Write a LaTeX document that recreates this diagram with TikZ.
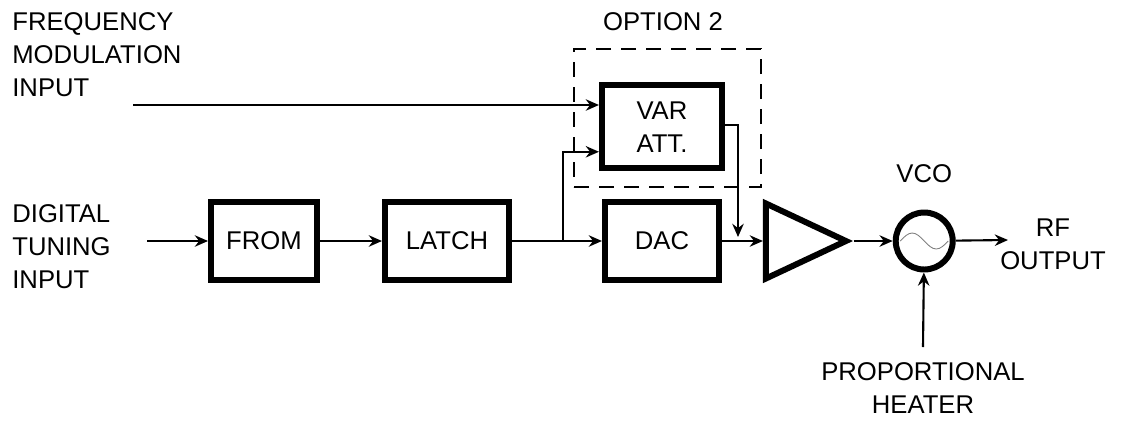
\documentclass[tikz,border=0pt]{standalone}
\usepackage{fontspec}
\setmainfont{Liberation Sans}
\usepackage{tikz}
\usetikzlibrary{shapes.geometric, arrows.meta, positioning}
\tikzstyle{block}=[rectangle, draw=black, line width=3.4pt, minimum height=1.55cm, inner sep=0pt]
\tikzstyle{amp}=[isosceles triangle, isosceles triangle stretches, draw=black, line width=3.4pt, minimum width=1.5cm, minimum height=1.6cm, inner sep=0pt]
\tikzstyle{osc}=[circle, draw=black, line width=3.4pt, minimum size=1.14cm, inner sep=0pt]
\tikzstyle{optbox}=[rectangle, draw=black, line width=1.2pt, dash pattern=on 0.3cm off 0.2cm, minimum width=3.74cm, minimum height=2.76cm]
\tikzstyle{lbl}=[inner sep=0pt, align=left]
\tikzstyle{arrow}=[line width=1.2pt, -{Stealth[length=7.5pt, width=6.5pt]}]

\begin{document}
\begin{tikzpicture}[font=\fontsize{14.6}{18.8}\selectfont]
    \useasboundingbox (0,0) rectangle (22.42,-8.42);
    \node[block, minimum width=2.12cm] (from) at (5.28,-4.82) {FROM};
    \node[block, minimum width=2.48cm, right=1.24cm of from] (latch) {LATCH};
    \node[block, minimum width=2.28cm, right=1.8cm of latch] (dac) {DAC};
    \node[block, minimum width=2.4cm, minimum height=1.66cm, align=center, above=0.56cm of dac] (var) {VAR\\ATT.};
    \node[amp, right=0.82cm of dac] (amp) {};
    \node[osc, right=0.78cm of amp] (vco) {};
    \node[optbox] (opt) at (13.35,-2.36) {};

    % labels
    \node[lbl, anchor=west] (fmtxt) at (0.24,-1.1) {FREQUENCY\\MODULATION\\INPUT};
    \node[lbl, anchor=west] (dttxt) at (0.24,-4.94) {DIGITAL\\TUNING\\INPUT};
    \node[lbl] (optlbl) at (13.26,-0.44) {OPTION 2};
    \node[lbl, above=0.52cm of vco] (vcolbl) {VCO};
    \node[lbl, align=center] (rflbl) at (21.06,-4.88) {RF\\OUTPUT};
    \node[lbl, align=center] (heatlbl) at (18.46,-7.76) {PROPORTIONAL\\HEATER};

    \coordinate (fmin) at (2.66,-2.1);
    \coordinate (dtin) at (2.94,-4.82);
    \coordinate (split) at (11.26,-4.82);
    \coordinate (join) at (14.76,-4.74);
    \coordinate (rfout) at (20.16,-4.8);
    \coordinate (heat) at (18.46,-6.94);

    \draw[gray, line width=0.5pt] ([xshift=-0.48cm]vco.center) sin ++(0.24,0.16) cos ++(0.24,-0.16) sin ++(0.24,-0.16) cos ++(0.24,0.16);

    \draw[arrow] (fmin) -- (fmin -| var.west);
    \draw[arrow] (dtin) -- (from);
    \draw[arrow] (from) -- (latch);
    \draw[arrow] (latch) -- (dac);
    \draw[arrow] (split) |- ([yshift=-0.5cm]var.west);
    \draw[arrow] ([yshift=0.04cm]var.east) -| (join);
    \draw[arrow] (dac) -- (amp);
    \draw[arrow] (amp) -- (vco);
    \draw[arrow] (vco) -- (rfout);
    \draw[arrow] (heat) -- (vco);
\end{tikzpicture}
\end{document}
